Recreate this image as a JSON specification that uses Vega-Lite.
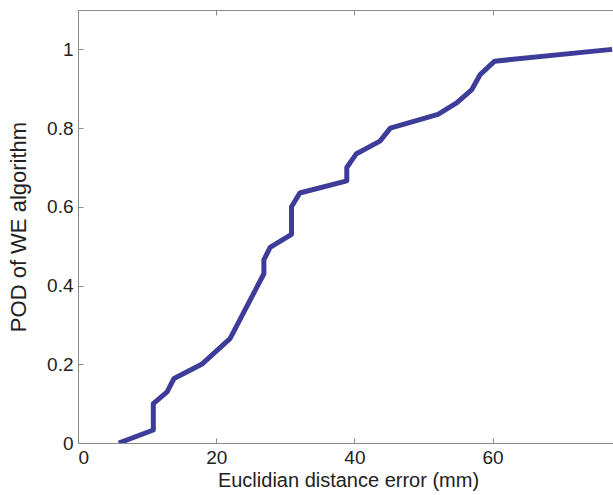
{
  "$schema": "https://vega.github.io/schema/vega-lite/v6.json",
  "autosize": "none",
  "padding": {"left": 78, "top": 10, "right": 0, "bottom": 52},
  "width": 540,
  "height": 433,
  "background": "white",
  "config": {
    "view": {"stroke": "#8a8a8a", "strokeWidth": 1},
    "font": "Liberation Sans",
    "axis": {
      "domainColor": "#8a8a8a",
      "tickColor": "#8a8a8a",
      "grid": false,
      "labelFont": "Liberation Sans",
      "labelFontSize": 19,
      "labelColor": "#222222",
      "titleFont": "Liberation Sans",
      "titleFontWeight": "normal",
      "titleColor": "#222222"
    }
  },
  "data": {
    "values": [
      {"x": 5.9, "y": 0.0},
      {"x": 10.9, "y": 0.033},
      {"x": 10.9, "y": 0.1},
      {"x": 12.9, "y": 0.13},
      {"x": 13.9, "y": 0.164},
      {"x": 17.9, "y": 0.2},
      {"x": 22.0, "y": 0.265},
      {"x": 26.9, "y": 0.43},
      {"x": 26.9, "y": 0.465},
      {"x": 27.8, "y": 0.497},
      {"x": 30.9, "y": 0.53},
      {"x": 30.9, "y": 0.6},
      {"x": 32.1, "y": 0.635},
      {"x": 38.9, "y": 0.666},
      {"x": 38.9, "y": 0.7},
      {"x": 40.3, "y": 0.735},
      {"x": 43.7, "y": 0.767},
      {"x": 45.2, "y": 0.8},
      {"x": 52.1, "y": 0.835},
      {"x": 54.8, "y": 0.864},
      {"x": 57.0, "y": 0.898},
      {"x": 58.2, "y": 0.936},
      {"x": 60.3, "y": 0.97},
      {"x": 77.3, "y": 1.0}
    ]
  },
  "layer": [
    {
      "mark": {"type": "line", "color": "#3d3d99", "strokeWidth": 5, "strokeJoin": "round", "strokeCap": "butt", "clip": true},
      "encoding": {
        "x": {
          "field": "x", "type": "quantitative",
          "scale": {"domain": [0, 78.15], "nice": false, "zero": false},
          "axis": {"orient": "bottom", "values": [0, 20, 40, 60], "tickSize": -5, "labelPadding": 10, "title": "Euclidian distance error (mm)", "titleFontSize": 20, "titlePadding": 3, "format": "d"}
        },
        "y": {
          "field": "y", "type": "quantitative",
          "scale": {"domain": [0, 1.1], "nice": false},
          "axis": {"values": [0, 0.2, 0.4, 0.6, 0.8, 1], "tickSize": -5, "labelPadding": 10, "title": "POD of WE algorithm", "titleFontSize": 22, "titlePadding": 16, "labelExpr": "datum.value == 0 ? '0' : datum.value == 1 ? '1' : format(datum.value, '.1f')"}
        }
      }
    },
    {
      "mark": {"type": "line", "opacity": 0},
      "encoding": {
        "x": {
          "field": "x", "type": "quantitative",
          "scale": {"domain": [0, 78.15], "nice": false, "zero": false},
          "axis": {"orient": "top", "values": [0, 20, 40, 60], "tickSize": -5, "labels": false, "title": null}
        },
        "y": {"field": "y", "type": "quantitative", "scale": {"domain": [0, 1.1], "nice": false}}
      }
    }
  ],
  "resolve": {"axis": {"x": "independent"}}
}
